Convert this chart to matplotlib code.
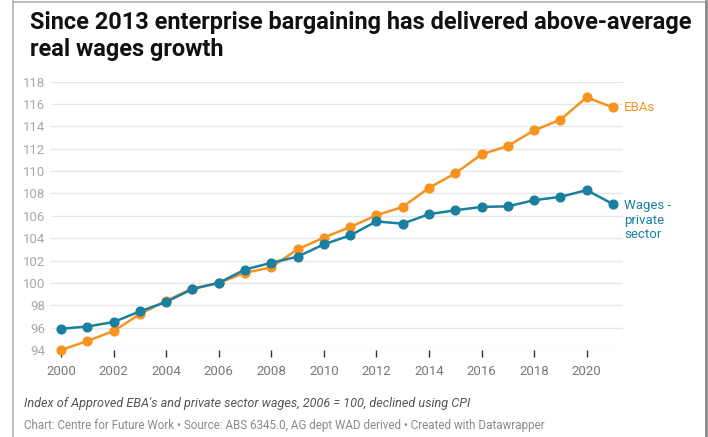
import matplotlib
matplotlib.use('Agg')
import matplotlib.pyplot as plt
from matplotlib.lines import Line2D

plt.rcParams['font.family'] = ['Roboto', 'DejaVu Sans']

YEARS = list(range(2000, 2022))
EBAS = [94.0, 94.8, 95.7, 97.2, 98.4, 99.5, 100.0, 100.9, 101.4, 103.0, 104.05,
        105.0, 106.05, 106.8, 108.5, 109.8, 111.5, 112.25, 113.65, 114.6, 116.6, 115.7]
WAGES = [95.9, 96.1, 96.5, 97.45, 98.3, 99.45, 100.0, 101.2, 101.8, 102.35, 103.45,
         104.25, 105.5, 105.3, 106.15, 106.5, 106.8, 106.85, 107.4, 107.7, 108.3, 107.05]
X_TICKS = list(range(2000, 2021, 2))
Y_TICKS = list(range(94, 119, 2))

ORANGE = '#f7931e'
BLUE = '#1b7fa0'

TITLE = 'Since 2013 enterprise bargaining has delivered above-average\nreal wages growth'
NOTE = "Index of Approved EBA's and private sector wages, 2006 = 100, declined using CPI"
SOURCE = 'Chart: Centre for Future Work \u2022 Source: ABS 6345.0, AG dept WAD derived \u2022 Created with Datawrapper'

W, H = 708, 437
fig = plt.figure(figsize=(W / 100, H / 100), dpi=100)

# frame lines around the card
fig.add_artist(Line2D([13 / W, 13 / W], [0, 1 - 1 / H], color='#b0b0b0', lw=1.2))
fig.add_artist(Line2D([13 / W, 706 / W], [1 - 1.5 / H, 1 - 1.5 / H], color='#b0b0b0', lw=1.2))
fig.add_artist(Line2D([706 / W, 706 / W], [0, 1 - 1 / H], color='#8a8a8a', lw=2))

ax = fig.add_axes([50.7 / W, 1 - 350 / H, (622.7 - 50.7) / W, (350 - 81.7) / H])
ax.set_xlim(1999.61, 2021.37)
ax.set_ylim(94, 118)

for y in Y_TICKS:
    ax.axhline(y, color='#e6e6e6', lw=1, zorder=0)

ax.plot(YEARS, EBAS, color=ORANGE, lw=1.8, marker='o', ms=6.3, clip_on=False, zorder=3)
ax.plot(YEARS, WAGES, color=BLUE, lw=1.8, marker='o', ms=6.3, clip_on=False, zorder=4)

for s in ax.spines.values():
    s.set_visible(False)

ax.set_yticks(Y_TICKS)
ax.set_yticklabels([str(y) for y in Y_TICKS])
ax.tick_params(axis='y', length=0, pad=4, labelsize=9.5, labelcolor='#a8a8a8')
ax.set_xticks(X_TICKS)
ax.set_xticklabels([str(x) for x in X_TICKS])
ax.tick_params(axis='x', length=5, width=1, color='#333333', direction='out', pad=6,
               labelsize=9.5, labelcolor='#777777')

ax.text(2021.37 + 0.05, EBAS[-1], 'EBAs', color=ORANGE, fontsize=9.5,
        va='center', ha='left', clip_on=False)
ax.text(2021.37 + 0.05, WAGES[-1] + 0.45, 'Wages -\nprivate\nsector', color=BLUE, fontsize=9.5,
        va='top', ha='left', linespacing=1.15, clip_on=False)

fig.text(30 / W, 1 - 11 / H, TITLE, fontsize=16.9, fontweight='bold', color='#111111',
         va='top', ha='left', linespacing=1.22)
fig.text(24 / W, 1 - 403 / H, NOTE, fontsize=9.05, style='italic', color='#555555',
         va='center', ha='left')
fig.text(24 / W, 1 - 425 / H, SOURCE, fontsize=8.4, color='#8a8a8a',
         va='center', ha='left')

fig.savefig('out.png', dpi=100, facecolor='white')
